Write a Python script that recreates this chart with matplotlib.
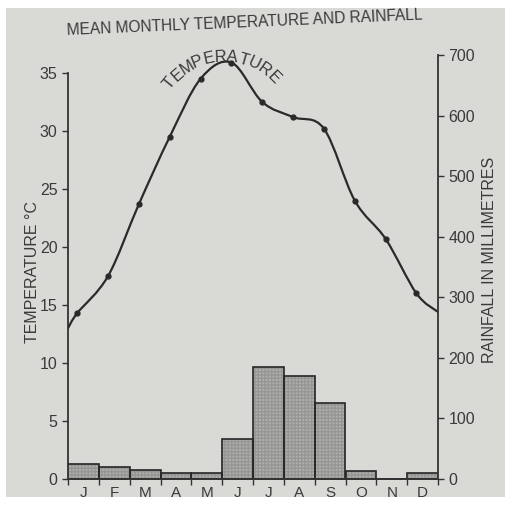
import matplotlib.pyplot as plt
import numpy as np
from matplotlib.path import Path
from matplotlib.patches import PathPatch, Rectangle

months = ["J", "F", "M", "A", "M", "J", "J", "A", "S", "O", "N", "D"]
temperature = [14.3, 17.5, 23.7, 29.5, 34.5, 35.9, 32.5, 31.2, 30.2, 24.0, 20.7, 16.0]
temp_year_start = 13.0
temp_year_end = 14.4
rainfall = [25, 20, 15, 10, 10, 66, 185, 170, 125, 13, 0, 10]

plt.rcParams['font.family'] = ['Liberation Sans', 'DejaVu Sans']
ink = "#3a3a3a"
paper = "#d9d9d6"

fig = plt.figure(figsize=(5.11, 5.08), dpi=100, facecolor="white")
fig.patches.append(Rectangle((6 / 511, 1 - 497 / 508), 499 / 511, 489 / 508,
                             transform=fig.transFigure, facecolor=paper,
                             edgecolor="none", zorder=-10))

ax = fig.add_axes([68 / 511, 1 - 479 / 508, 370 / 511, 424 / 508])
ax.patch.set_visible(False)
ax2 = ax.twinx()
ax2.patch.set_visible(False)
ax.set_zorder(1)
ax2.set_zorder(2)

# rainfall bars (right axis)
x = np.arange(12)
ax2.bar(x, rainfall, width=1.0, align="edge", color="#b0b0ae",
        edgecolor="#969694", hatch="+++++", linewidth=0)
ax2.bar(x, rainfall, width=1.0, align="edge", fill=False,
        edgecolor="#262626", linewidth=1.2)
ax2.set_ylim(0, 700)
ax2.set_yticks([0, 100, 200, 300, 400, 500, 600, 700])
ax2.set_ylabel("RAINFALL IN MILLIMETRES", fontsize=11.5, color=ink)
ax2.yaxis.set_label_coords(1.12, 0.517)

# temperature curve (left axis), smooth through the monthly points
px = np.concatenate([[0.0], x + 0.3, [12.0]])
py = np.concatenate([[temp_year_start], temperature, [temp_year_end]])
pts = np.column_stack([px, py])
ext = np.vstack([pts[0], pts, pts[-1]])
verts = [tuple(pts[0])]
codes = [Path.MOVETO]
for i in range(len(pts) - 1):
    p0, p1, p2, p3 = ext[i], ext[i + 1], ext[i + 2], ext[i + 3]
    verts += [tuple(p1 + (p2 - p0) / 6), tuple(p2 - (p3 - p1) / 6), tuple(p2)]
    codes += [Path.CURVE4] * 3
ax.add_patch(PathPatch(Path(verts, codes), facecolor="none",
                       edgecolor="#2a2a2a", linewidth=1.6, zorder=3))
ax.plot(x + 0.3, temperature, "o", color="#2a2a2a", markersize=3.5, zorder=4)

ax.set_xlim(0, 12)
ax.set_ylim(0, 36.55)
ax.set_yticks([0, 5, 10, 15, 20, 25, 30, 35])
ax.spines["left"].set_bounds(0, 35)
ax.set_ylabel("TEMPERATURE °C", fontsize=11.5, color=ink)
ax.yaxis.set_label_coords(-0.075, 0.488)
ax.set_xticks(np.arange(13))
ax.set_xticklabels([])
ax.set_xticks(x + 0.5, minor=True)
ax.set_xticklabels(months, minor=True, fontsize=11, color=ink)
ax.tick_params(axis="x", which="major", length=4, width=1, color="#333333")
ax.tick_params(axis="x", which="minor", length=0, pad=5)

for a in (ax, ax2):
    a.spines["top"].set_visible(False)
    for s in ["left", "right", "bottom"]:
        a.spines[s].set_color("#333333")
        a.spines[s].set_linewidth(1.3)
    a.tick_params(axis="y", labelsize=11.5, labelcolor=ink, length=4, width=1,
                  color="#333333")
ax.spines["right"].set_visible(False)
ax2.spines["left"].set_visible(False)

# title
fig.text(0.478, 0.955, "MEAN MONTHLY TEMPERATURE AND RAINFALL", ha="center",
         va="center", fontsize=11.2, color=ink, rotation=2.5)

# curved "TEMPERATURE" label along the arc above the peak
word = "TEMPERATURE"
cx, cy, r = 224, 127, 70
angles = np.linspace(141, 45, len(word))
for ch, ang in zip(word, angles):
    t = np.deg2rad(ang)
    fx = (cx + r * np.cos(t)) / 511
    fy = 1 - (cy - r * np.sin(t)) / 508
    fig.text(fx, fy, ch, ha="center", va="center", fontsize=12, color=ink,
             rotation=ang - 90)

fig.savefig("out.png", dpi=100, facecolor="white")
